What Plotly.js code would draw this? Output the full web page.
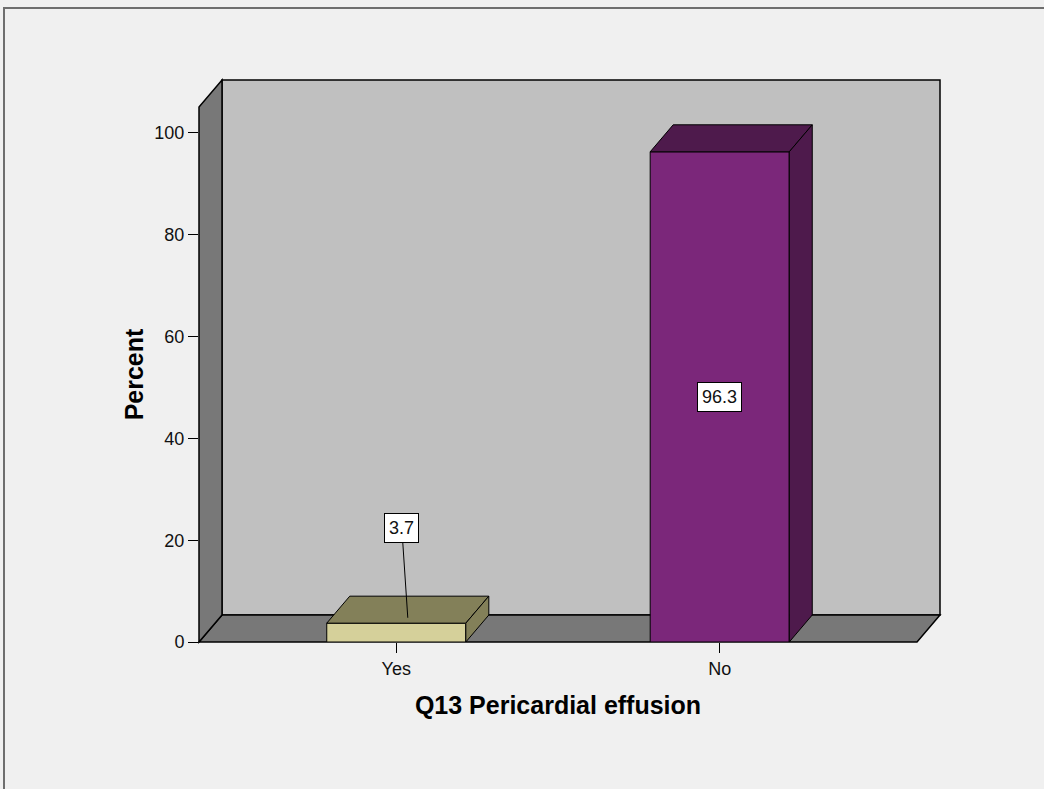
<!DOCTYPE html>
<html>
<head>
<meta charset="utf-8">
<script src="https://cdn.plot.ly/plotly-3.0.1.min.js"></script>
<style>html,body{margin:0;padding:0;background:#F0F0F0;}#chart{width:1044px;height:789px;}</style>
</head>
<body>
<div id="chart"></div>
<script>
// ---- data ----
const categories = ['Yes', 'No'];
const percents = [3.7, 96.3];
const barLabels = ['3.7', '96.3'];
const yTickVals = [0, 20, 40, 60, 80, 100];
const xTitle = 'Q13 Pericardial effusion';
const yTitle = 'Percent';

// ---- styles / geometry ----
const frontColors = ['#D5D09A', '#7B277A'];
const darkColors = ['#838059', '#4E1A4C'];
const FONT = '"Liberation Sans", Arial, sans-serif';
const W = 1044, H = 789;
const FRONT = {left: 199, right: 917, top: 107, bottom: 642};
const DEPTH = {dx: 23, dy: 27};
const X_RANGE = [-0.61, 1.61];
const Y_RANGE = [0, 105.1];
const BAR_WIDTH = 0.43;

const plotW = FRONT.right - FRONT.left, plotH = FRONT.bottom - FRONT.top;
const dxData = DEPTH.dx * (X_RANGE[1] - X_RANGE[0]) / plotW;
const dyData = DEPTH.dy * (Y_RANGE[1] - Y_RANGE[0]) / plotH;
const dxP = DEPTH.dx / plotW, dyP = DEPTH.dy / plotH;
const px2pX = px => (px - FRONT.left) / plotW;
const px2pY = py => (FRONT.bottom - py) / plotH;

const xIdx = categories.map((c, i) => i);

const poly = pts => 'M ' + pts.map(p => p[0] + ',' + p[1]).join(' L ') + ' Z';

const shapes = [];
// outer frame (top + left border)
shapes.push({type: 'path', xref: 'paper', yref: 'paper', layer: 'below',
  path: 'M ' + px2pX(4) + ',' + px2pY(H + 5) + ' L ' + px2pX(4) + ',' + px2pY(8) + ' L ' + px2pX(W + 5) + ',' + px2pY(8),
  line: {color: '#6E6E6E', width: 2}});
// back wall
shapes.push({type: 'path', xref: 'paper', yref: 'paper', layer: 'below',
  path: poly([[dxP, dyP], [1 + dxP, dyP], [1 + dxP, 1 + dyP], [dxP, 1 + dyP]]),
  fillcolor: '#C0C0C0', line: {color: '#000', width: 1.5}});
// floor
shapes.push({type: 'path', xref: 'paper', yref: 'paper', layer: 'below',
  path: poly([[0, 0], [1, 0], [1 + dxP, dyP], [dxP, dyP]]),
  fillcolor: '#787878', line: {color: '#000', width: 1.5}});
// left wall
shapes.push({type: 'path', xref: 'paper', yref: 'paper', layer: 'below',
  path: poly([[0, 0], [dxP, dyP], [dxP, 1 + dyP], [0, 1]]),
  fillcolor: '#787878', line: {color: '#000', width: 1.5}});

// bar top and side faces
xIdx.forEach((x, i) => {
  const v = percents[i], l = x - BAR_WIDTH / 2, r = x + BAR_WIDTH / 2;
  shapes.push({type: 'path', xref: 'x', yref: 'y', layer: 'above',
    path: poly([[l, v], [r, v], [r + dxData, v + dyData], [l + dxData, v + dyData]]),
    fillcolor: darkColors[i], line: {color: '#000', width: 1}});
  shapes.push({type: 'path', xref: 'x', yref: 'y', layer: 'above',
    path: poly([[r, 0], [r, v], [r + dxData, v + dyData], [r + dxData, dyData]]),
    fillcolor: darkColors[i], line: {color: '#000', width: 1}});
});

const annotations = xIdx.map((x, i) => {
  const v = percents[i];
  const small = v < 10;
  return {
    x: small ? x + dxData / 2 : x,
    y: small ? v + dyData * 0.2 : v / 2,
    xref: 'x', yref: 'y',
    text: barLabels[i],
    showarrow: small,
    arrowhead: 0, arrowwidth: 1, arrowcolor: '#000',
    ax: -6, ay: -90,
    bgcolor: '#FFFFFF', bordercolor: '#000', borderwidth: 1, borderpad: 4,
    font: {family: FONT, size: 18, color: '#111'}
  };
});

const trace = {
  type: 'bar',
  x: xIdx,
  y: percents,
  width: BAR_WIDTH,
  marker: {color: frontColors, line: {color: '#000', width: 1}},
  hoverinfo: 'x+y'
};

const layout = {
  width: W, height: H, autosize: false,
  margin: {l: FRONT.left, r: W - FRONT.right, t: FRONT.top, b: H - FRONT.bottom, pad: 0},
  paper_bgcolor: '#F0F0F0',
  plot_bgcolor: 'rgba(0,0,0,0)',
  showlegend: false,
  font: {family: FONT, size: 18, color: '#111'},
  xaxis: {
    range: X_RANGE, tickvals: xIdx, ticktext: categories,
    showgrid: false, zeroline: false, showline: false,
    ticks: 'outside', ticklen: 10, tickcolor: '#000', tickwidth: 1,
    tickfont: {family: FONT, size: 18, color: '#111'},
    title: {text: xTitle, font: {family: FONT, size: 25, color: '#000', weight: 'bold'}, standoff: 18},
    fixedrange: true
  },
  yaxis: {
    range: Y_RANGE, tickvals: yTickVals,
    showgrid: false, zeroline: false, showline: false,
    ticks: 'outside', ticklen: 10, tickcolor: '#000', tickwidth: 1,
    tickfont: {family: FONT, size: 18, color: '#111'},
    title: {text: yTitle, font: {family: FONT, size: 25, color: '#000', weight: 'bold'}, standoff: 3},
    fixedrange: true
  },
  shapes: shapes,
  annotations: annotations
};

Plotly.newPlot('chart', [trace], layout, {displayModeBar: false, staticPlot: true});
</script>
</body>
</html>
